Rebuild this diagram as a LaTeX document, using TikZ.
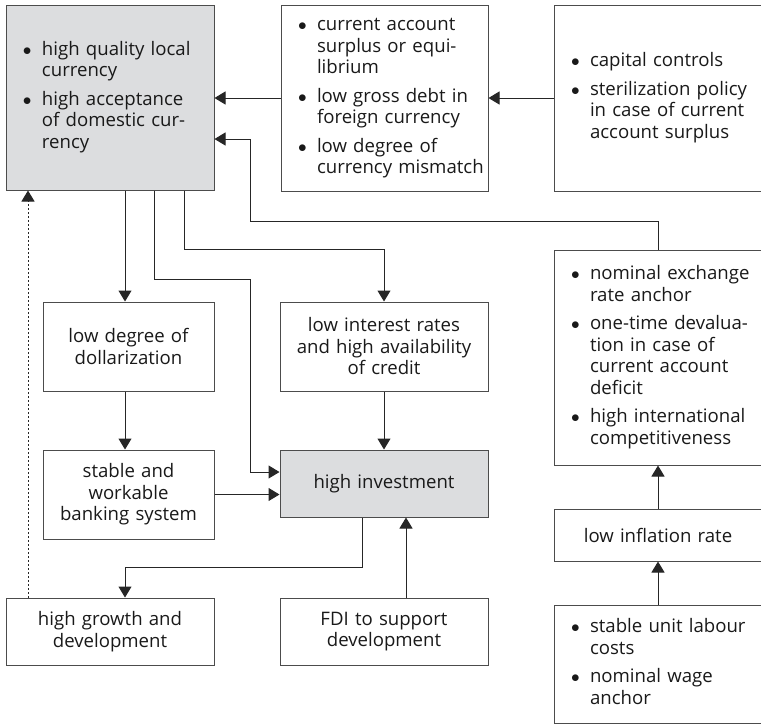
\documentclass[tikz,border=0pt]{standalone}
\usepackage{fontspec}
\setmainfont{Open Sans}
\usetikzlibrary{arrows.meta}
\definecolor{boxgray}{RGB}{220,221,223}
\tikzset{
  box/.style={draw=black!70, line width=1pt, inner xsep=0pt, inner ysep=0pt, align=center,
    text=black!90, font={\fontsize{18.6}{21.5}\selectfont}},
  listbox/.style={box, align=left, inner xsep=17pt},
  arr/.style={draw=black!85, line width=1pt, -{Triangle[width=13pt,length=11pt]}},
  dotarr/.style={arr, dash pattern=on 2pt off 2pt},
}
\newenvironment{blist}{\begin{tabular}{@{}p{19pt}@{}l@{}}}{\end{tabular}}

\begin{document}
\begin{tikzpicture}[x=1pt, y=-1pt]
        \useasboundingbox (0,0) rectangle (761,724);
        \clip (0,0) rectangle (761,724);

        \node[listbox, fill=boxgray, minimum width=208pt, minimum height=185pt, text width=174pt] (quality) at (110,97.5)
          {\begin{blist} $\bullet$ & high quality local\\ & currency\\[7pt]
            $\bullet$ & high acceptance\\ & of domestic cur-\\ & rency \end{blist}};
        \node[listbox, minimum width=207pt, minimum height=186pt, text width=173pt] (balance) at (384.5,98)
          {\begin{blist} $\bullet$ & current account\\ & surplus or equi-\\ & librium\\[7pt]
            $\bullet$ & low gross debt in\\ & foreign currency\\[7pt]
            $\bullet$ & low degree of\\ & currency mismatch \end{blist}};
        \node[listbox, minimum width=208pt, minimum height=186pt, text width=174pt] (controls) at (658,98)
          {\begin{blist} $\bullet$ & capital controls\\[7pt]
            $\bullet$ & sterilization policy\\ & in case of current\\ & account surplus \end{blist}};
        \node[listbox, minimum width=208pt, minimum height=215pt, text width=174pt] (anchor) at (658,357.5)
          {\begin{blist} $\bullet$ & nominal exchange\\ & rate anchor\\[7pt]
            $\bullet$ & one-time devalua-\\ & tion in case of\\ & current account\\ & deficit\\[7pt]
            $\bullet$ & high international\\ & competitiveness \end{blist}};
        \node[box, minimum width=208pt, minimum height=52pt, text width=208pt] (inflation) at (658,535) {low inflation rate};
        \node[listbox, minimum width=208pt, minimum height=118pt, text width=174pt] (wages) at (658,664)
          {\begin{blist} $\bullet$ & stable unit labour\\ & costs\\[7pt]
            $\bullet$ & nominal wage\\ & anchor \end{blist}};

        \node[box, minimum width=171pt, minimum height=89pt, text width=171pt] (dollar) at (128.5,346.5) {low degree of\\ dollarization};
        \node[box, minimum width=208pt, minimum height=89pt, text width=208pt] (credit) at (384,346.5) {low interest rates\\ and high availability\\ of credit};
        \node[box, minimum width=171pt, minimum height=89pt, text width=171pt] (banking) at (128.5,494.5) {stable and\\ workable\\ banking system};
        \node[box, fill=boxgray, minimum width=208pt, minimum height=67pt, text width=208pt] (invest) at (384,483.5) {high investment};
        \node[box, minimum width=208pt, minimum height=67pt, text width=208pt] (growth) at (110,631.5) {high growth and\\ development};
        \node[box, minimum width=208pt, minimum height=67pt, text width=208pt] (fdi) at (384,631.5) {FDI to support\\ development};

        \path (controls.west) edge[arr] (balance.east);
        \path (balance.west) edge[arr] (balance.west -| quality.east);
        \draw[arr] (anchor.north) |- (250,221) |- ([yshift=-41.5pt]quality.east);
        \path ([xshift=15pt]quality.south) edge[arr] ([xshift=15pt]quality.south |- dollar.north);
        \draw[arr] ([xshift=44pt]quality.south) |- (250,279) |- ([yshift=11.5pt]invest.west);
        \draw[arr] ([xshift=74pt]quality.south) |- ([yshift=52pt]credit.north) -- (credit.north);
        \path (credit.south) edge[arr] (invest.north);
        \path ([xshift=-3.5pt]dollar.south) edge[arr] ([xshift=-3.5pt]banking.north);
        \path (banking.east) edge[arr] (banking.east -| invest.west);
        \draw[arr] ([xshift=-22pt]invest.south) |- ([xshift=15pt,yshift=30pt]growth.north) -- ([xshift=15pt]growth.north);
        \path ([xshift=22pt]fdi.north) edge[arr] ([xshift=22pt]invest.south);
        \path ([xshift=-82pt]growth.north) edge[dotarr] ([xshift=-82pt]quality.south);
        \path (inflation.north) edge[arr] (anchor.south);
        \path (wages.north) edge[arr] (inflation.south);
      \end{tikzpicture}
\end{document}
